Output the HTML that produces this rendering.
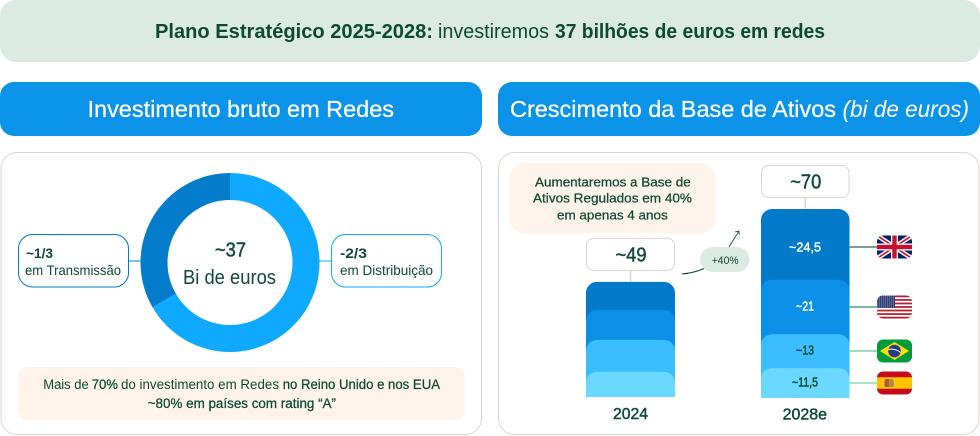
<!DOCTYPE html>
<html lang="pt">
<head>
<meta charset="utf-8">
<title>Plano Estratégico 2025-2028</title>
<style>
html,body{margin:0;padding:0;background:#fff;width:980px;height:436px;overflow:hidden}
svg{display:block}
text{font-family:"Liberation Sans",sans-serif;fill:#0d4a33}
.b{font-weight:700}
.m{stroke:#0d4a33;stroke-width:.25}
.s{stroke:#0d4a33;stroke-width:.45}
.w{fill:#fff}
.ws{fill:#fff;stroke:#fff;stroke-width:.25}
.wb{fill:#fff;stroke:#fff;stroke-width:.4}
</style>
</head>
<body>
<svg id="chart" width="980" height="436" viewBox="0 0 980 436" xmlns="http://www.w3.org/2000/svg">
<defs>
<clipPath id="flag-clip"><rect x="0" y="0" width="35" height="23" rx="6"/></clipPath>
<pattern id="stars" width="2" height="2" patternUnits="userSpaceOnUse"><rect width="2" height="2" fill="#2f3f78"/><rect width="1" height="1" fill="#8d97bd"/></pattern>
</defs>

<rect x="0" y="0" width="980" height="62" rx="16" fill="#dcebe2"/>
<text class="b" x="155" y="38" font-size="20" textLength="278" lengthAdjust="spacingAndGlyphs">Plano Estratégico 2025-2028:</text>
<text x="438" y="38" font-size="20" textLength="111" lengthAdjust="spacingAndGlyphs">investiremos</text>
<text class="b" x="555" y="38" font-size="20" textLength="270" lengthAdjust="spacingAndGlyphs">37 bilhões de euros em redes</text>

<rect x="0" y="82" width="482" height="54" rx="14" fill="#0a93e8"/>
<text class="ws" x="87.5" y="117" font-size="23" textLength="306.5" lengthAdjust="spacingAndGlyphs">Investimento bruto em Redes</text>
<rect x="498" y="82" width="482" height="54" rx="14" fill="#0a93e8"/>
<text class="ws" x="510" y="117" font-size="23" textLength="326" lengthAdjust="spacingAndGlyphs">Crescimento da Base de Ativos</text>
<text class="w" font-style="italic" x="842.5" y="117" font-size="23" textLength="126.5" lengthAdjust="spacingAndGlyphs">(bi de euros)</text>

<rect x="1" y="152.5" width="480.5" height="282" rx="16" fill="#fff" stroke="#ddd5cc" stroke-width="1"/>
<rect x="498.5" y="152.5" width="480.5" height="282" rx="16" fill="#fff" stroke="#ddd5cc" stroke-width="1"/>

<rect x="129" y="260" width="12" height="2" fill="#7cc4ee"/>
<rect x="318" y="260" width="13" height="2" fill="#8fd5fb"/>
<g id="donut"></g>
<text class="s" x="215" y="256.5" font-size="20" textLength="31" lengthAdjust="spacingAndGlyphs">~37</text>
<text x="183" y="284" font-size="20" textLength="93" lengthAdjust="spacingAndGlyphs">Bi de euros</text>

<rect x="18.5" y="234.5" width="110" height="52.5" rx="14" fill="#fff" stroke="#0379c9" stroke-width="1"/>
<text class="b" x="26" y="258" font-size="14" textLength="27" lengthAdjust="spacingAndGlyphs">~1/3</text>
<text x="25" y="275" font-size="14" textLength="96" lengthAdjust="spacingAndGlyphs">em Transmissão</text>
<rect x="331.5" y="234.5" width="110" height="52.5" rx="14" fill="#fff" stroke="#0fa9ff" stroke-width="1"/>
<text class="b" x="340" y="258" font-size="14" textLength="27" lengthAdjust="spacingAndGlyphs">-2/3</text>
<text x="340" y="275" font-size="14" textLength="93" lengthAdjust="spacingAndGlyphs">em Distribuição</text>

<rect x="18" y="367" width="447" height="53" rx="10" fill="#fef4ec"/>
<text x="43.3" y="389" font-size="13.5" textLength="45.4" lengthAdjust="spacingAndGlyphs">Mais de</text>
<text class="m" x="91.7" y="389" font-size="13.5" textLength="26.3" lengthAdjust="spacingAndGlyphs">70%</text>
<text x="121" y="389" font-size="13.5" textLength="158" lengthAdjust="spacingAndGlyphs">do investimento em Redes</text>
<text class="m" x="282.7" y="389" font-size="13.5" textLength="157.3" lengthAdjust="spacingAndGlyphs">no Reino Unido e nos EUA</text>
<text class="m" x="147.7" y="408" font-size="13.5" textLength="188.3" lengthAdjust="spacingAndGlyphs">~80% em países com rating “A”</text>

<rect x="509" y="163" width="207" height="70.5" rx="16" fill="#fef4ec"/>
<text class="m" x="535" y="186.7" font-size="13" textLength="155.7" lengthAdjust="spacingAndGlyphs">Aumentaremos a Base de</text>
<text class="m" x="533" y="202.7" font-size="13" textLength="159" lengthAdjust="spacingAndGlyphs">Ativos Regulados em 40%</text>
<text class="m" x="557" y="219.3" font-size="13" textLength="110.7" lengthAdjust="spacingAndGlyphs">em apenas 4 anos</text>

<path d="M682 274 Q694 273 704 268.5" fill="none" stroke="#0d4a33" stroke-width="1"/>
<path d="M729 247 L739 231 M735 232 L739 231 L739.3 235" fill="none" stroke="#0d4a33" stroke-width=".8"/>
<rect x="700" y="247" width="49.5" height="25" rx="12.5" fill="#dcebe2"/>
<text x="711.7" y="264" font-size="11" textLength="27" lengthAdjust="spacingAndGlyphs">+40%</text>

<g id="bars"></g>
<text class="s" x="613" y="419" font-size="15.5" textLength="35" lengthAdjust="spacingAndGlyphs">2024</text>
<text class="s" x="782.7" y="419.3" font-size="15.5" textLength="44.3" lengthAdjust="spacingAndGlyphs">2028e</text>

<g id="leaders"></g>

<g id="flag-uk"><g clip-path="url(#flag-clip)">
<rect width="35" height="23" fill="#012169"/>
<path d="M0 0L35 23M35 0L0 23" stroke="#fff" stroke-width="4.6"/>
<path d="M0 0L35 23M35 0L0 23" stroke="#c8102e" stroke-width="1.6"/>
<rect x="14" width="7" height="23" fill="#fff"/><rect y="8" width="35" height="7" fill="#fff"/>
<rect x="15.3" width="4.4" height="23" fill="#c8102e"/><rect y="9.3" width="35" height="4.4" fill="#c8102e"/>
</g></g>

<g id="flag-us"><g clip-path="url(#flag-clip)">
<rect width="35" height="23" fill="#fff"/>
<rect y="0" width="35" height="1.77" fill="#b22234"/><rect y="3.54" width="35" height="1.77" fill="#b22234"/><rect y="7.08" width="35" height="1.77" fill="#b22234"/><rect y="10.62" width="35" height="1.77" fill="#b22234"/><rect y="14.15" width="35" height="1.77" fill="#b22234"/><rect y="17.69" width="35" height="1.77" fill="#b22234"/><rect y="21.23" width="35" height="1.77" fill="#b22234"/>
<rect width="18" height="12.4" fill="url(#stars)"/>
</g></g>

<g id="flag-br"><g clip-path="url(#flag-clip)">
<rect width="35" height="23" fill="#009b3a"/>
<path d="M17.5 2.5L32 11.5L17.5 20.5L3 11.5Z" fill="#fedf00"/>
<circle cx="17.5" cy="11.5" r="6.3" fill="#2b3a8c"/>
<path d="M11.4 10Q18 8.5 23.6 13" fill="none" stroke="#fff" stroke-width=".9"/>
</g></g>

<g id="flag-es"><g clip-path="url(#flag-clip)">
<rect width="35" height="23" fill="#c60b1e"/>
<rect y="5.75" width="35" height="11.5" fill="#ffc400"/>
<rect x="8" y="7.5" width="4" height="8" fill="#c0542a"/><rect x="12" y="7.5" width="4" height="8" fill="#b5883a"/><rect x="7" y="9" width="1" height="6" fill="#999"/><rect x="16" y="9" width="1" height="6" fill="#999"/>
</g></g>

<script>
// Donut data (share of gross network investment, in thirds, clockwise from 12 o'clock)
var donutCategories = ['distribuicao', 'transmissao'];
var donutValues = [2, 1];
var donutColors = ['#0fa9ff', '#037ccc'];

// Bar data, bottom segment first (bi de euros)
var years = ['2024', '2028e'];
var segments2024 = [10.7, 13.6, 12.8, 11.9];
var segments2028 = [11.5, 13, 21, 24.5];
var segmentLabels2028 = ['~11,5', '~13', '~21', '~24,5'];
var totalLabels = ['~49', '~70'];
var segmentColors = ['#6bd8ff', '#3bbeff', '#0a90e6', '#0379c9'];

var NS = 'http://www.w3.org/2000/svg';
function make(tag, parent, attrs) {
  var node = document.createElementNS(NS, tag);
  for (var k in attrs) node.setAttribute(k, attrs[k]);
  parent.appendChild(node);
  return node;
}

// Donut scale: cumulative value -> angle -> point
var donutTotal = donutValues.reduce(function (a, b) { return a + b; }, 0);
function angleOf(v) { return v / donutTotal * 2 * Math.PI; }
function px(r, a) { return 230 + r * Math.sin(a); }
function py(r, a) { return 262.5 - r * Math.cos(a); }
var donutGroup = document.getElementById('donut');
var cumulative = 0;
donutValues.forEach(function (v, i) {
  var a0 = angleOf(cumulative);
  var a1 = angleOf(cumulative + v);
  cumulative += v;
  var large = a1 - a0 > Math.PI ? 1 : 0;
  var R = 89.5, r = 62.5;
  var d = 'M' + px(R, a0) + ' ' + py(R, a0) +
    'A' + R + ' ' + R + ' 0 ' + large + ' 1 ' + px(R, a1) + ' ' + py(R, a1) +
    'L' + px(r, a1) + ' ' + py(r, a1) +
    'A' + r + ' ' + r + ' 0 ' + large + ' 0 ' + px(r, a0) + ' ' + py(r, a0) + 'Z';
  var slice = make('path', donutGroup, { d: d, fill: donutColors[i] });
  
  
});

// Bar axis functions
function y2024(v) { return 397 - v * 2.35; }
function y2028(v) { return 398 - v * 2.6; }
var barRadius = 11;
var barsGroup = document.getElementById('bars');
var leadersGroup = document.getElementById('leaders');
var flagIds = ['flag-es', 'flag-br', 'flag-us', 'flag-uk'];
var leaderColors = ['#a6e6c1', '#98e0b6', '#7db79d', '#7f9f94'];

function drawBar(values, yFn, x, w, cap, yearIndex) {
  var bottom = yFn(0);
  var sum = 0;
  var tops = [], mids = [];
  values.forEach(function (v, i) {
    var y0 = yFn(sum);
    sum += v;
    var y1 = yFn(sum);
    mids.push((y0 + y1) / 2);
    tops.push(i === values.length - 1 ? y1 - cap : y1);
  });
  // upper segments first so each lower segment's rounded top overlaps them
  for (var i = values.length - 1; i >= 0; i--) {
    var t = tops[i];
    var d = 'M' + x + ' ' + bottom + 'V' + (t + barRadius) +
      'A' + barRadius + ' ' + barRadius + ' 0 0 1 ' + (x + barRadius) + ' ' + t +
      'H' + (x + w - barRadius) +
      'A' + barRadius + ' ' + barRadius + ' 0 0 1 ' + (x + w) + ' ' + (t + barRadius) +
      'V' + bottom + 'Z';
    var seg = make('path', barsGroup, { d: d, fill: segmentColors[i] });
    
    
  }
  var barTop = tops[tops.length - 1];
  var stem = make('rect', barsGroup, { x: x + w / 2 - 0.75, y: barTop - 12, width: 1.5, height: 12, fill: '#ddd5cc' });
  
  
  var box = make('rect', barsGroup, { x: x + 0.5, y: barTop - 44 + 0.5, width: w - 1, height: 32, rx: 7, fill: '#fff', stroke: '#ddd5cc', 'stroke-width': 1 });
  
  
  var total = make('text', barsGroup, { x: x + w / 2 + 0.5, y: barTop - 20.5, 'font-size': 20, 'text-anchor': 'middle', 'class': 's', textLength: 31, lengthAdjust: 'spacingAndGlyphs' });
  
  
  total.textContent = totalLabels[yearIndex];
  return mids;
}

drawBar(segments2024, y2024, 586, 89, 0, 0);
var mids2028 = drawBar(segments2028, y2028, 761, 88.5, 7, 1);

var labelWidths = { 0: 26, 1: 18, 2: 18, 3: 32 };
mids2028.forEach(function (mid, i) {
  var lineY = Math.round(mid - 0.5);
  var label = make('text', barsGroup, { x: 805, y: mid + 3.5, 'font-size': 12.5, 'text-anchor': 'middle', 'class': i > 1 ? 'wb' : 's', textLength: labelWidths[i], lengthAdjust: 'spacingAndGlyphs' });
  
  
  label.textContent = segmentLabels2028[i];
  var leader = make('rect', leadersGroup, { x: 849, y: lineY - 1, width: 29, height: 2, fill: leaderColors[i] });
  
  
  document.getElementById(flagIds[i]).setAttribute('transform', 'translate(877 ' + (lineY - 11.5) + ')');
});
</script>
</svg>
</body>
</html>
